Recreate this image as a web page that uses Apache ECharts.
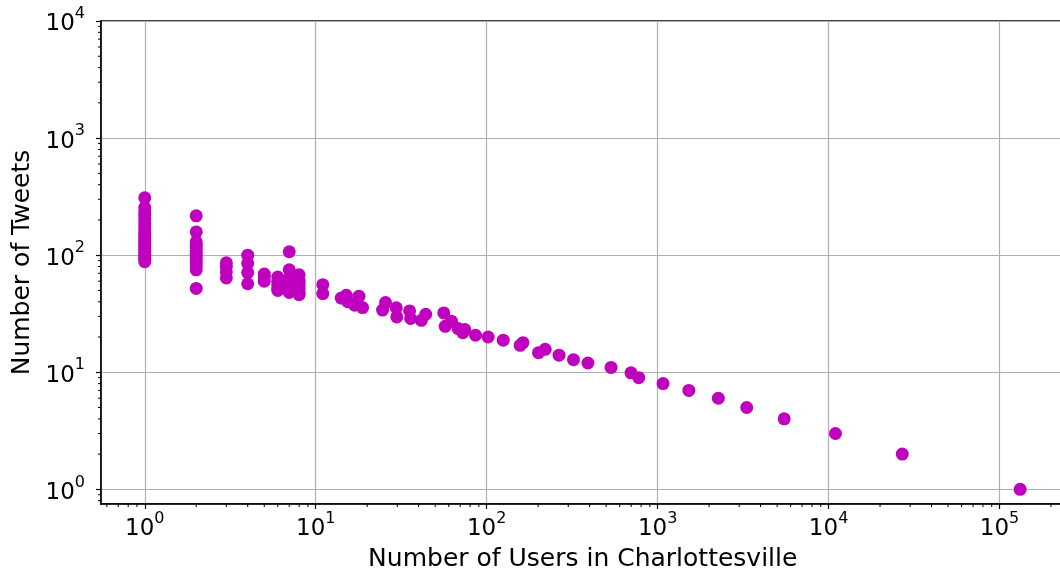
<!DOCTYPE html>
<html>
<head>
<meta charset="utf-8">
<script src="https://cdn.jsdelivr.net/npm/echarts@6/dist/echarts.min.js"></script>
<style>html,body{margin:0;padding:0;background:#fff}#c{width:1060px;height:573px}</style>
</head>
<body>
<div id="c"></div>
<script>
// Number of users in Charlottesville (x) vs number of tweets (y)
const usersX = [
  1,1,1,1,1,1,1,1,1,1,1,1,1,1,1,1,1,1,1,1,1,
  2,2,2,2,2,2,2,2,2,2,2,2,2,
  3,3,3,3,
  4,4,4,4,
  5,5,5,
  6,6,6,6,6,
  7,7,7,7,7,7,7,
  8,8,8,8,8,8,
  11,11,
  14.1,15.1,15.4,16.9,17.9,18.8,
  24.6,25.6,29.6,29.8,35.4,35.9,41.5,44,
  56.1,57.2,62.2,68.1,72.6,74.5,86.1,102,
  125,157,163,201,220,265,322,391,534,699,775,
  1076,1523,2264,3321,5500,10970,26980,132000
];
const tweetsY = [
  309,255,235,220,205,190,178,168,158,150,142,135,128,122,116,110,105,100,96,92,88,
  217,158,130,122,115,108,102,96,90,85,80,75,52,
  86,80,72,64,
  100,85,71,57,
  69,65,60,
  65,60,56,52,50,
  107,75,63,58,55,51,48,
  68,60,56,52,48,46,
  56,47,
  43,45.5,40,37.4,44.7,35.7,
  34,39.4,35.5,29.7,33.4,28.8,27.8,31.3,
  32.1,24.7,27.3,23.6,21.8,23.2,20.7,20,
  18.8,17,17.9,14.7,15.7,14,12.8,12,11,9.9,9,
  8,7,6,5,4,3,2,1
];
const xTitle = 'Number of Users in Charlottesville';
const yTitle = 'Number of Tweets';
// log-axis minor tick positions (matplotlib style: 2..9 within each decade)
const minorMultipliers = [2, 3, 4, 5, 6, 7, 8, 9];
const xMinorDecades = [0.1, 1, 10, 100, 1000, 10000, 100000];
const yMinorDecades = [0.1, 1, 10, 100, 1000];

const X_MIN = Math.pow(10, -0.256), X_MAX = Math.pow(10, 5.38);
const Y_MIN = Math.pow(10, -0.125), Y_MAX = 10000;

const points = usersX.map((x, i) => [x, tweetsY[i]]);
const xMinor = [];
xMinorDecades.forEach(d => minorMultipliers.forEach(m => { const v = d * m; if (v > X_MIN && v < X_MAX) xMinor.push([v, Y_MIN]); }));
const yMinor = [];
yMinorDecades.forEach(d => minorMultipliers.forEach(m => { const v = d * m; if (v > Y_MIN && v < Y_MAX) yMinor.push([X_MIN, v]); }));

const FONT = 'DejaVu Sans';
function powLabel(v) {
  const e = Math.log10(v);
  const r = Math.round(e);
  if (Math.abs(e - r) > 1e-6) return '';
  return '{b|10}{s|' + r + '}';
}
const rich = {
  b: { fontFamily: FONT, fontSize: 23, color: '#000', lineHeight: 30, verticalAlign: 'bottom' },
  s: { fontFamily: FONT, fontSize: 16, color: '#000', lineHeight: 30, verticalAlign: 'top' }
};

function minorTick(dir) {
  return function (params, api) {
    const p = api.coord([api.value(0), api.value(1)]);
    const len = 3;
    const shape = dir === 'x'
      ? { x1: p[0], y1: p[1], x2: p[0], y2: p[1] + len }
      : { x1: p[0], y1: p[1], x2: p[0] - len, y2: p[1] };
    return { type: 'line', shape: shape, style: { stroke: '#000', lineWidth: 1 } };
  };
}

const chart = echarts.init(document.getElementById('c'), null, { renderer: 'canvas' });
chart.setOption({
  animation: false,
  backgroundColor: '#fff',
  grid: { left: 101, top: 21, width: 963.5, height: 483, containLabel: false,
          outerBoundsMode: 'none',
          show: true, borderColor: '#000', borderWidth: 1.5, backgroundColor: 'transparent' },
  xAxis: {
    type: 'log',
    logBase: 10,
    min: X_MIN,
    max: X_MAX,
    name: xTitle,
    nameLocation: 'middle',
    nameGap: 43,
    nameTextStyle: { fontFamily: FONT, fontSize: 25, color: '#000' },
    axisLine: { show: true, lineStyle: { color: '#000', width: 1.5 } },
    axisTick: { show: true, length: 5, lineStyle: { color: '#000', width: 1.2 } },
    axisLabel: { formatter: powLabel, rich: rich, margin: 7, showMinLabel: false, showMaxLabel: false },
    splitLine: { show: true, lineStyle: { color: '#b0b0b0', width: 1.2 } }
  },
  yAxis: {
    type: 'log',
    logBase: 10,
    min: Y_MIN,
    max: Y_MAX,
    name: yTitle,
    nameLocation: 'middle',
    nameGap: 62,
    nameRotate: 90,
    nameTextStyle: { fontFamily: FONT, fontSize: 25, color: '#000' },
    axisLine: { show: true, lineStyle: { color: '#000', width: 1.5 } },
    axisTick: { show: true, length: 5, lineStyle: { color: '#000', width: 1.2 } },
    axisLabel: { formatter: powLabel, rich: rich, margin: 16, showMinLabel: false },
    splitLine: { show: true, lineStyle: { color: '#b0b0b0', width: 1.2 } }
  },
  series: [{
    type: 'scatter',
    data: points,
    symbol: 'circle',
    symbolSize: 13,
    itemStyle: { color: '#bf00bf', opacity: 1 },
    z: 3
  }, {
    type: 'custom',
    data: xMinor,
    renderItem: minorTick('x'),
    clip: false,
    silent: true,
    z: 4
  }, {
    type: 'custom',
    data: yMinor,
    renderItem: minorTick('y'),
    clip: false,
    silent: true,
    z: 4
  }]
});
</script>
</body>
</html>
